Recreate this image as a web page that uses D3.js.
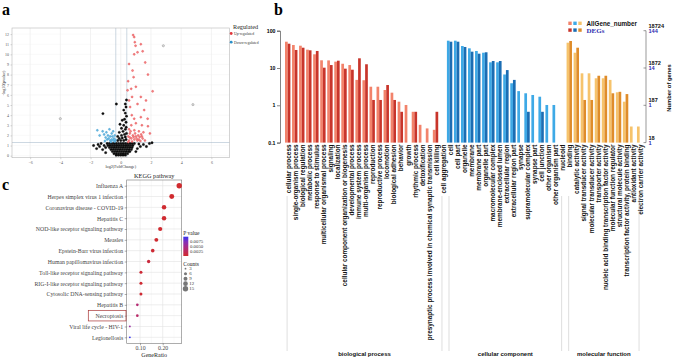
<!DOCTYPE html>
<html lang="en">
<head>
<meta charset="UTF-8">
<title>DEG volcano, GO and KEGG</title>
<script src="https://cdn.jsdelivr.net/npm/d3@7/dist/d3.min.js"></script>
<style>
  body { margin: 0; background: #fff; }
  svg { display: block; }
</style>
</head>
<body>
<script>
// ---------- panel a : volcano, [log2FC, -log10 p]
const upPts = [
  [0.82,11.9],[0.89,11.7],[0.93,11.2],[0.98,10.85],[1.33,11.0],[1.11,10.2],[0.89,10.0],[1.45,10.3],
  [1.62,9.2],[0.55,9.05],[1.8,8.0],[0.78,8.4],[0.85,7.75],[0.49,7.35],[2.11,6.35],[0.69,6.6],
  [0.45,6.45],[1.0,6.8],[1.33,5.8],[0.75,5.8],[0.55,5.45],[1.11,5.1],[1.67,5.45],[1.55,4.5],
  [0.73,4.0],[0.89,3.65],[1.33,3.8],[1.78,3.65],[0.62,4.8],[1.0,3.2],[1.4,3.0],[0.7,3.0],
  [1.8,2.9],[0.55,2.6],[0.9,2.5],[1.2,2.4],[1.5,2.3],[0.6,2.2],[0.8,2.0],[1.0,1.9],
  [1.25,1.85],[1.45,1.7],[0.5,1.9],[0.7,1.7],[0.9,1.6],[1.1,1.5],[1.3,1.45],[0.55,1.5],
  [0.75,1.4],[1.6,1.5],[0.95,2.2],[1.15,2.0],[0.65,2.4],[1.35,2.1],[0.5,1.35],[0.6,1.8],
  [0.85,1.85],[1.05,1.7],[1.2,1.6],[1.4,1.9],[1.93,2.2]
];
const downPts = [
  [-0.4,1.4],[-0.5,1.5],[-0.6,1.6],[-0.7,1.5],[-0.8,1.7],[-0.9,1.6],[-1.0,1.8],[-0.45,1.7],
  [-0.55,1.9],[-0.7,1.9],[-0.85,2.0],[-1.1,2.1],[-0.4,2.0],[-0.6,2.2],[-0.95,2.3],[-1.2,2.4],
  [-1.55,2.5],[-0.35,1.55],[-0.75,2.6],[-1.4,2.0],[-0.5,2.4],[-1.05,1.45],[-0.65,1.35]
];
const nsPts = [
  [-0.3,0.05],[-0.15,0.05],[0,0.05],[0.15,0.05],[0.3,0.05],
  [-0.45,0.2],[-0.3,0.2],[-0.15,0.2],[0,0.2],[0.15,0.2],[0.3,0.2],[0.45,0.2],
  [-0.55,0.4],[-0.4,0.4],[-0.25,0.4],[-0.1,0.4],[0.05,0.4],[0.2,0.4],[0.35,0.4],[0.5,0.4],[0.6,0.4],
  [-0.65,0.6],[-0.5,0.6],[-0.35,0.6],[-0.2,0.6],[-0.05,0.6],[0.1,0.6],[0.25,0.6],[0.4,0.6],[0.55,0.6],[0.7,0.6],
  [-0.75,0.8],[-0.6,0.8],[-0.45,0.8],[-0.3,0.8],[-0.15,0.8],[0,0.8],[0.15,0.8],[0.3,0.8],[0.45,0.8],[0.6,0.8],[0.75,0.8],
  [-0.85,1.0],[-0.7,1.0],[-0.55,1.0],[-0.4,1.0],[-0.25,1.0],[-0.1,1.0],[0.05,1.0],[0.2,1.0],[0.35,1.0],[0.5,1.0],[0.65,1.0],[0.8,1.0],
  [-0.9,1.2],[-0.75,1.2],[-0.6,1.2],[-0.45,1.2],[-0.3,1.2],[-0.15,1.2],[0,1.2],[0.15,1.2],[0.3,1.2],[0.45,1.2],[0.6,1.2],[0.75,1.2],[0.9,1.2],
  [-0.2,1.5],[0,1.5],[0.2,1.5],[0.35,1.6],[-0.1,1.7],[0.1,1.75],[0.3,1.85],[-0.2,1.9],[0.05,2.0],[0.25,2.1],
  [0.38,2.2],[-0.1,2.3],[0.15,2.4],[0.3,2.6],[0.05,2.7],[0.36,2.8],[0.2,3.0],[-0.05,3.1],[0.35,3.3],[0.1,3.5],
  [0.25,3.6],[0.38,3.9],[0.3,4.2],[0.2,4.5],[0.35,4.8],[0.3,5.1],[-0.29,5.1],[0.38,5.5],
  [-1.0,0.3],[-1.2,0.6],[-1.4,0.9],[-1.5,1.1],[-1.3,1.2],[-1.1,1.0],[-1.0,0.8],[1.0,0.4],[1.1,0.7],
  [1.3,0.9],[1.5,1.1],[1.2,1.15],[1.7,0.9],[1.9,1.2],[2.07,1.27],[-1.6,0.7],[-1.8,1.0],[-1.18,4.15]
];
const outlierPts = [[2.82,10.85],[4.78,5.04],[-4.0,3.65]];
const volXTicks = [-6, -4, -2, 0, 2, 4, 6];
const volYTicks = [0, 1, 2, 3, 4, 5, 6, 7, 8, 9, 10, 11, 12];
const fcCut = [-0.33, 0.4];
const pCut = 1.3;

// ---------- panel b : GO classification, percent of genes
const bpTerms = ['cellular process','single-organism process','biological regulation','metabolic process',
  'response to stimulus','multicellular organismal process','signaling','localization',
  'cellular component organization or biogenesis','developmental process','immune system process',
  'multi-organism process','reproduction','reproductive process','locomotion','biological adhesion',
  'behavior','growth','rhythmic process','detoxification',
  'presynaptic process involved in chemical synaptic transmission','cell killing','cell aggregation'];
const bpAll = [50.7,41.4,39.6,31,23.3,16.1,16,14.8,13,12,4.8,4.7,3.15,3.15,2.57,2.18,1.25,1.02,0.67,0.3,0.24,0.22,0];
const bpDeg = [44.8,30.4,35,29.8,28.6,10.2,12,15.7,9.6,9,18.2,12.6,1.39,1.39,3.5,1.39,0.67,0,0.67,0,0,0.67,0];

const ccTerms = ['cell','cell part','organelle','membrane','membrane part','organelle part',
  'macromolecular complex','membrane-enclosed lumen','extracellular region','extracellular region part',
  'synapse','supramolecular complex','synapse part','cell junction','other organism','other organism part','nucleoid'];
const ccAll = [54,54,38.9,33.7,28.6,25.7,14.2,14.2,6.7,3.9,2.4,2.1,1.89,1.7,1.02,1.02,0];
const ccDeg = [50.7,50.7,36.6,27.4,24.2,26.4,15.4,15.4,8.8,4.8,0,0.67,0,0.67,0,0,0];

const mfTerms = ['binding','catalytic activity','signal transducer activity','molecular transducer activity',
  'transporter activity','nucleic acid binding transcription factor activity','molecular function regulator',
  'structural molecule activity','transcription factor activity, protein binding','antioxidant activity',
  'electron carrier activity'];
const mfAll = [47.7,25.7,7.2,7.2,5.3,5.3,4.8,2.23,1.25,0.27,0.27];
const mfDeg = [53,35,1.39,1.39,6.2,6.2,2.1,2.3,2.0,0,0];

const goGroups = ['biological process','cellular component','molecular function'];
const pctTicks = [100, 10, 1, 0.1];
const allGeneLabels = ['18724','1872','187','18'];
const degLabels = ['144','14','1','1'];

// ---------- panel c : KEGG enrichment
const keggPaths = ['Influenza A','Herpes simplex virus 1 infection','Coronavirus disease - COVID-19',
  'Hepatitis C','NOD-like receptor signaling pathway','Measles','Epstein-Barr virus infection',
  'Human papillomavirus infection','Toll-like receptor signaling pathway',
  'RIG-I-like receptor signaling pathway','Cytosolic DNA-sensing pathway','Hepatitis B',
  'Necroptosis','Viral life cycle - HIV-1','Legionellosis'];
const keggRatio = [0.273,0.240,0.206,0.206,0.189,0.172,0.156,0.138,0.104,0.104,0.104,0.088,0.088,0.055,0.055];
const keggCount = [15,13,11,11,10,9,8,7,6,6,6,5,5,3,3];
const keggP = [0.00001,0.00002,0.0001,0.0001,0.00005,0.0001,0.0003,0.0008,0.0004,0.0002,0.0003,0.0035,0.003,0.006,0.0098];
const ratioTicks = [0.1, 0.2];
const pTicks = [0.0075, 0.0050, 0.0025];
const countTicks = [3, 6, 9, 12, 15];

const SANS = '"Liberation Sans", Arial, sans-serif';
const SERIF = '"Liberation Serif", "Times New Roman", serif';

const svg = d3.select('body').append('svg').attr('width', 676).attr('height', 359);

// panel letters
svg.append('text').attr('x', 2).attr('y', 15).text('a');
svg.append('text').attr('x', 274).attr('y', 15).text('b');
svg.append('text').attr('x', 2).attr('y', 190).text('c');
svg.selectAll('text').attr('font-family', SERIF).attr('font-weight', 'bold').attr('font-size', 16);

// ================= panel a
const xA = d3.scaleLinear().domain([-7.2, 7.2]).range([12, 229.5]);
const yA = d3.scaleLinear().domain([-0.2, 12.6]).range([157.7, 28]);
const gA = svg.append('g');

gA.selectAll('.vg').data(volXTicks).join('line')
  .attr('x1', d => xA(d)).attr('x2', d => xA(d)).attr('y1', 28).attr('y2', 157.7)
  .attr('stroke', '#e4e4e4').attr('stroke-width', 0.5);
gA.selectAll('.hg').data(volYTicks).join('line')
  .attr('y1', d => yA(d)).attr('y2', d => yA(d)).attr('x1', 12).attr('x2', 229.5)
  .attr('stroke', '#f0f0f0').attr('stroke-width', 0.4);

// cut-off lines
gA.selectAll('.fc').data(fcCut).join('line')
  .attr('x1', d => xA(d)).attr('x2', d => xA(d)).attr('y1', 28).attr('y2', 157.7)
  .attr('stroke', '#9ab0c4').attr('stroke-width', 0.5);
gA.append('line').attr('x1', 12).attr('x2', 229.5).attr('y1', yA(pCut)).attr('y2', yA(pCut))
  .attr('stroke', '#9ab0c4').attr('stroke-width', 0.5);

gA.append('rect').attr('x', 12).attr('y', 28).attr('width', 217.5).attr('height', 129.7)
  .attr('fill', 'none').attr('stroke', '#b8b8b8').attr('stroke-width', 0.6);

const axAx = gA.append('g').attr('transform', 'translate(0,157.7)')
  .call(d3.axisBottom(xA).tickValues(volXTicks).tickSize(1.5).tickPadding(2));
const axAy = gA.append('g').attr('transform', 'translate(12,0)')
  .call(d3.axisLeft(yA).tickValues(volYTicks).tickSize(1.5).tickPadding(1.5));
[axAx, axAy].forEach(a => {
  a.attr('font-family', SERIF).attr('font-size', 4);
  a.select('.domain').remove();
  a.selectAll('line').attr('stroke', '#999').attr('stroke-width', 0.4);
  a.selectAll('text').attr('fill', '#555');
});

gA.selectAll('.ns').data(nsPts).join('circle')
  .attr('cx', d => xA(d[0])).attr('cy', d => yA(d[1])).attr('r', 1.2)
  .attr('fill', '#111').attr('stroke', '#000').attr('stroke-width', 0.3);
gA.selectAll('.out').data(outlierPts).join('circle')
  .attr('cx', d => xA(d[0])).attr('cy', d => yA(d[1])).attr('r', 1.1)
  .attr('fill', '#ddd').attr('stroke', '#777').attr('stroke-width', 0.4);
gA.selectAll('.up').data(upPts).join('circle')
  .attr('cx', d => xA(d[0])).attr('cy', d => yA(d[1])).attr('r', 1)
  .attr('fill', '#f48a8a').attr('stroke', '#e0353b').attr('stroke-width', 0.4);
gA.selectAll('.down').data(downPts).join('circle')
  .attr('cx', d => xA(d[0])).attr('cy', d => yA(d[1])).attr('r', 1)
  .attr('fill', '#6cbbe3').attr('stroke', '#2b8fc8').attr('stroke-width', 0.4);

gA.append('text').attr('x', 120.75).attr('y', 168).attr('text-anchor', 'middle')
  .attr('font-family', SERIF).attr('font-size', 4.2).attr('fill', '#333').text('log2(FoldChange)');
gA.append('text').attr('transform', 'translate(5,83) rotate(-90)').attr('text-anchor', 'middle')
  .attr('font-family', SERIF).attr('font-size', 4.2).attr('fill', '#333').text('-log10(pvalue)');

// legend
gA.append('text').attr('x', 233).attr('y', 29).attr('font-family', SERIF).attr('font-size', 6.2)
  .attr('fill', '#222').text('Regulated');
const volLeg = [['Up-regulated', '#e0353b'], ['Down-regulated', '#2b8fc8']];
volLeg.forEach((d, i) => {
  gA.append('circle').attr('cx', 231.2).attr('cy', 33.5 + i * 8.7).attr('r', 1.4).attr('fill', d[1]);
  gA.append('text').attr('x', 234).attr('y', 34.8 + i * 8.7).attr('font-family', SERIF)
    .attr('font-size', 3.8).attr('fill', '#333').text(d[0]);
});

// ================= panel b
const goRows = [];
[[bpTerms, bpAll, bpDeg], [ccTerms, ccAll, ccDeg], [mfTerms, mfAll, mfDeg]].forEach((g, gi) => {
  g[0].forEach((t, i) => goRows.push({ term: t, group: gi, all: g[1][i], deg: g[2][i] }));
});
const goColors = [['#f2836b', '#c8352b'], ['#3ea9e6', '#1b6db3'], ['#f6c36c', '#df8c2a']];

const xB = d3.scaleBand().domain(goRows.map(d => d.term)).range([283.6, 642.6]);
const inner = d3.scaleBand().domain(['all', 'deg']).range([1.4, 6.8]);
const yB = d3.scaleLog().domain([0.1, 100]).range([142.6, 30.7]);
const gB = svg.append('g');

['all', 'deg'].forEach((k, ki) => {
  gB.selectAll('.bar-' + k).data(goRows.filter(d => d[k] > 0)).join('rect')
    .attr('x', d => xB(d.term) + inner(k)).attr('width', inner.bandwidth())
    .attr('y', d => yB(d[k])).attr('height', d => yB(0.1) - yB(d[k]))
    .attr('fill', d => goColors[d.group][ki]);
});

const axBl = gB.append('g').attr('transform', 'translate(280,0)')
  .call(d3.axisLeft(yB).tickValues(pctTicks).tickFormat(d => d).tickSize(3).tickPadding(1.5));
axBl.attr('font-family', SANS).attr('font-size', 5.2).attr('font-weight', 'bold');
axBl.selectAll('line, path').attr('stroke', '#333').attr('stroke-width', 0.6);

const axBr = gB.append('g').attr('transform', 'translate(646,0)');
axBr.append('line').attr('y1', yB(100)).attr('y2', yB(0.1)).attr('stroke', '#555').attr('stroke-width', 0.6);
axBr.selectAll('.tk').data(pctTicks).join('line')
  .attr('x1', -2.5).attr('x2', 0).attr('y1', d => yB(d)).attr('y2', d => yB(d))
  .attr('stroke', '#555').attr('stroke-width', 0.6);
axBr.selectAll('.la').data(pctTicks).join('text')
  .attr('x', 2.5).attr('y', d => yB(d) - 2.9).text((d, i) => allGeneLabels[i])
  .attr('font-family', SANS).attr('font-size', 5.6).attr('font-weight', 'bold').attr('fill', '#111');
axBr.selectAll('.ld').data(pctTicks).join('text')
  .attr('x', 2.5).attr('y', d => yB(d) + 1.9).text((d, i) => degLabels[i])
  .attr('font-family', SANS).attr('font-size', 5.6).attr('font-weight', 'bold').attr('fill', '#2b2bb0');
gB.append('text').attr('transform', 'translate(671,88) rotate(-90)').attr('text-anchor', 'middle')
  .attr('font-family', SANS).attr('font-size', 5.8).attr('font-weight', 'bold').attr('fill', '#111')
  .text('Number of genes');

// term labels
gB.selectAll('.term').data(goRows).join('text')
  .attr('transform', d => `translate(${xB(d.term) + 5},144.5) rotate(-90)`)
  .attr('text-anchor', 'end').attr('dy', '0.35em')
  .attr('font-family', SANS).attr('font-size', 6.4).attr('font-weight', 'bold').attr('fill', '#111')
  .text(d => d.term);

// group brackets
goGroups.forEach((g, gi) => {
  const rows = goRows.filter(d => d.group === gi);
  const x0 = xB(rows[0].term) + 3.5, x1 = xB(rows[rows.length - 1].term) + 3.5;
  [x0, x1].forEach(x => gB.append('line').attr('x1', x).attr('x2', x).attr('y1', 196).attr('y2', 351)
    .attr('stroke', '#c8c8c8').attr('stroke-width', 0.6));
  gB.append('text').attr('x', (x0 + x1) / 2).attr('y', 356).attr('text-anchor', 'middle')
    .attr('font-family', SANS).attr('font-size', 6).attr('font-weight', 'bold').attr('fill', '#111').text(g);
});

// legend
const legB = gB.append('g');
[['all', 'AllGene_number'], ['deg', 'DEGs']].forEach((k, ki) => {
  goColors.forEach((c, ci) => legB.append('rect').attr('x', 568.3 + ci * 5).attr('y', 21.6 + ki * 6.8)
    .attr('width', 3.4).attr('height', 3.4).attr('fill', c[ki]));
});
legB.append('text').attr('x', 586.5).attr('y', 26).attr('font-family', SANS).attr('font-size', 6.3)
  .attr('font-weight', 'bold').attr('fill', '#111').text('AllGene_number');
legB.append('text').attr('x', 586.5).attr('y', 32.8).attr('font-family', SERIF).attr('font-size', 7)
  .attr('font-weight', 'bold').attr('fill', '#3030b0').text('DEGs');

// ================= panel c
const kegg = keggPaths.map((p, i) => ({ path: p, ratio: keggRatio[i], count: keggCount[i], p: keggP[i] }));
const xC = d3.scaleLinear().domain([0.041, 0.284]).range([126.7, 181.7]);
const yC = d3.scalePoint().domain(keggPaths).range([185.7, 337.3]);
const rC = d3.scaleSqrt().domain([3, 15]).range([0.9, 2.7]);
const colC = d3.scaleLinear().domain([0, 0.0098]).range(['#d02a2e', '#3434ee']).interpolate(d3.interpolateLab);
const gC = svg.append('g');

gC.selectAll('.gx').data([0.05, 0.15, 0.25]).join('line')
  .attr('x1', d => xC(d)).attr('x2', d => xC(d)).attr('y1', 180).attr('y2', 343.3)
  .attr('stroke', '#f2f2f2').attr('stroke-width', 0.4);
gC.selectAll('.gX').data(ratioTicks).join('line')
  .attr('x1', d => xC(d)).attr('x2', d => xC(d)).attr('y1', 180).attr('y2', 343.3)
  .attr('stroke', '#e3e3e3').attr('stroke-width', 0.6);
gC.selectAll('.gy').data(keggPaths).join('line')
  .attr('y1', d => yC(d)).attr('y2', d => yC(d)).attr('x1', 126.7).attr('x2', 181.7)
  .attr('stroke', '#e3e3e3').attr('stroke-width', 0.6);
gC.append('rect').attr('x', 126.7).attr('y', 180).attr('width', 55).attr('height', 163.3)
  .attr('fill', 'none').attr('stroke', '#777').attr('stroke-width', 0.6);

const axCx = gC.append('g').attr('transform', 'translate(0,343.3)')
  .call(d3.axisBottom(xC).tickValues(ratioTicks).tickSize(2).tickPadding(1));
const axCy = gC.append('g').attr('transform', 'translate(126.7,0)')
  .call(d3.axisLeft(yC).tickSize(2).tickPadding(1.5));
[axCx, axCy].forEach(a => {
  a.attr('font-family', SERIF).attr('font-size', 5.8);
  a.select('.domain').remove();
  a.selectAll('line').attr('stroke', '#555').attr('stroke-width', 0.5);
  a.selectAll('text').attr('fill', '#444');
});

gC.selectAll('.dot').data(kegg).join('circle')
  .attr('cx', d => xC(d.ratio)).attr('cy', d => yC(d.path)).attr('r', d => rC(d.count))
  .attr('fill', d => colC(d.p));

gC.append('text').attr('x', 154.2).attr('y', 178).attr('text-anchor', 'middle')
  .attr('font-family', SERIF).attr('font-size', 6.3).attr('fill', '#222').text('KEGG pathway');
gC.append('text').attr('x', 154.2).attr('y', 356.5).attr('text-anchor', 'middle')
  .attr('font-family', SERIF).attr('font-size', 6).attr('fill', '#222').text('GeneRatio');

// highlighted pathway
gC.append('rect').attr('x', 88.3).attr('y', yC('Necroptosis') - 5.3).attr('width', 37.7).attr('height', 10.6)
  .attr('fill', 'none').attr('stroke', '#a83434').attr('stroke-width', 0.7);

// colour bar
const defs = svg.append('defs');
const grad = defs.append('linearGradient').attr('id', 'pgrad').attr('x1', 0).attr('x2', 0).attr('y1', 1).attr('y2', 0);
[0, 0.25, 0.5, 0.75, 1].forEach(t => grad.append('stop').attr('offset', t).attr('stop-color', colC(t * 0.0098)));
const yCb = d3.scaleLinear().domain([0, 0.0098]).range([256, 236.7]);
gC.append('text').attr('x', 183.3).attr('y', 234.5).attr('font-family', SERIF).attr('font-size', 5.5)
  .attr('fill', '#222').text('P value');
gC.append('rect').attr('x', 183.3).attr('y', 236.7).attr('width', 5).attr('height', 19.3).attr('fill', 'url(#pgrad)');
gC.selectAll('.pl').data(pTicks).join('text')
  .attr('x', 190).attr('y', d => yCb(d)).attr('dy', '0.35em').text(d => d.toFixed(4))
  .attr('font-family', SERIF).attr('font-size', 4.8).attr('fill', '#333');

// size legend
gC.append('text').attr('x', 183.3).attr('y', 266).attr('font-family', SERIF).attr('font-size', 5.5)
  .attr('fill', '#222').text('Counts');
const yCnt = d3.scalePoint().domain(countTicks).range([268.7, 288.7]);
gC.selectAll('.cl').data(countTicks).join('circle')
  .attr('cx', 185.5).attr('cy', d => yCnt(d)).attr('r', d => rC(d))
  .attr('fill', '#777');
gC.selectAll('.ct').data(countTicks).join('text')
  .attr('x', 189.3).attr('y', d => yCnt(d)).attr('dy', '0.35em').text(d => d)
  .attr('font-family', SERIF).attr('font-size', 4.8).attr('fill', '#333');
</script>
</body>
</html>
